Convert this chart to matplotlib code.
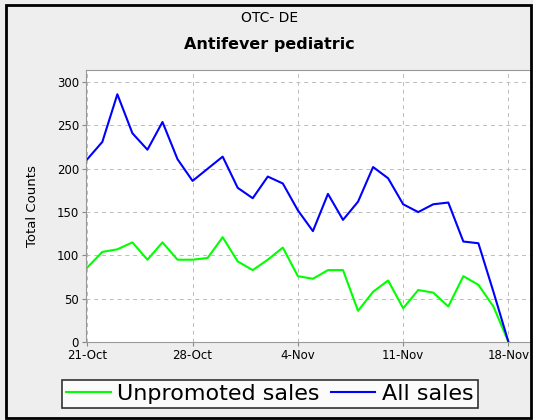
import pandas as pd
import matplotlib
matplotlib.use("Agg")
import matplotlib.pyplot as plt
import matplotlib.dates as mdates
from matplotlib.patches import Rectangle

# daily counts, 21-Oct .. 18-Nov
dates = pd.date_range("2010-10-21", periods=29, freq="D")
all_sales = [211, 231, 286, 241, 222, 254, 211, 186, 200, 214,
             178, 166, 191, 183, 152, 128, 171, 141, 162, 202,
             189, 159, 150, 159, 161, 116, 114, 58, 0]
unpromoted = [86, 104, 107, 115, 95, 115, 95, 95, 97, 121,
              93, 83, 95, 109, 76, 73, 83, 83, 36, 58,
              71, 39, 60, 57, 41, 76, 66, 41, 0]
tick_dates = ["2010-10-21", "2010-10-28", "2010-11-04", "2010-11-11", "2010-11-18"]
y_ticks = [0, 50, 100, 150, 200, 250, 300]

fig = plt.figure(figsize=(5.33, 4.2), dpi=100, facecolor="#EEEEEE")
ax = fig.add_axes([0.1614, 0.1857, 0.8349, 0.6476])
ax.set_facecolor("white")

ax.plot(dates, unpromoted, color="#00FF00", linewidth=1.5, label="Unpromoted sales")
ax.plot(dates, all_sales, color="#0000FF", linewidth=1.5, label="All sales")

ax.set_xlim(dates[0] - pd.Timedelta(hours=2), dates[0] + pd.Timedelta(days=29.5))
ax.set_ylim(0, 314)
ax.set_yticks(y_ticks)
ax.set_xticks(pd.to_datetime(tick_dates))
ax.xaxis.set_major_formatter(plt.FuncFormatter(
    lambda v, pos: f"{mdates.num2date(v).day}-{mdates.num2date(v):%b}"))

ax.grid(True, color="#BBBBBB", linestyle=(0, (4, 4)), linewidth=0.7)
for s in ax.spines.values():
    s.set_color("#999999")
ax.tick_params(colors="#888888", labelcolor="black", labelsize=8.5, length=3, pad=2)
ax.set_ylabel("Total Counts", fontsize=9.5)
ax.yaxis.set_label_coords(-0.105, 0.5)

fig.text(0.505, 0.957, "OTC- DE", ha="center", va="center", fontsize=10)
fig.text(0.505, 0.893, "Antifever pediatric", ha="center", va="center",
         fontsize=11.5, fontweight="bold")

leg = fig.legend(loc="center", bbox_to_anchor=(0.5066, 0.0619), fontsize=16,
                 ncol=2, frameon=True, fancybox=False, handlelength=2.0,
                 handletextpad=0.3, columnspacing=0.5, borderpad=0.2)
leg.get_frame().set_edgecolor("black")
leg.get_frame().set_linewidth(1.2)

# outer frame around the chart
fig.patches.append(Rectangle((0.011, 0.005), 0.986, 0.983, transform=fig.transFigure,
                             fill=False, edgecolor="black", linewidth=2))

fig.savefig("out.png", dpi=100, facecolor=fig.get_facecolor())
